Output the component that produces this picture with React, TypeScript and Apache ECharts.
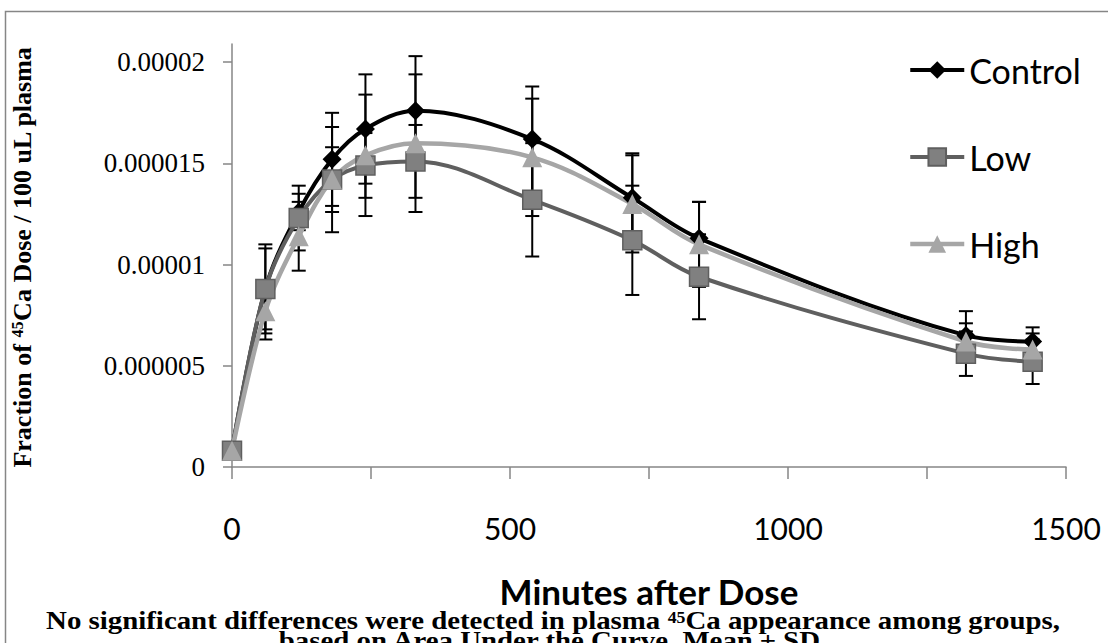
import React, { useEffect, useRef } from "react";
import * as echarts from "echarts";

// Sampling times (minutes after dose)
const minutes = [0, 60, 120, 180, 240, 330, 540, 720, 840, 1320, 1440];

// Fraction of 45Ca dose per 100 uL plasma, mean and SD per group
const controlMean = [0.0000008, 0.0000088, 0.0000126, 0.0000152, 0.0000167, 0.0000176, 0.0000162, 0.0000133, 0.0000113, 0.0000065, 0.0000062];
const controlSD = [0, 0.0000022, 0.0000009, 0.0000023, 0.0000027, 0.0000027, 0.0000026, 0.0000022, 0.0000018, 0.0000012, 0.0000007];
const lowMean = [0.0000008, 0.0000088, 0.0000123, 0.0000142, 0.0000149, 0.0000151, 0.0000132, 0.0000112, 0.0000094, 0.0000056, 0.0000052];
const lowSD = [0, 0.000002, 0.0000016, 0.0000016, 0.0000016, 0.0000018, 0.0000028, 0.0000027, 0.0000021, 0.0000011, 0.0000011];
const highMean = [0.0000008, 0.0000077, 0.0000114, 0.0000142, 0.0000154, 0.000016, 0.0000153, 0.000013, 0.000011, 0.0000062, 0.0000058];
const highSD = [0, 0.0000014, 0.0000017, 0.0000026, 0.000003, 0.0000034, 0.0000029, 0.0000024, 0.0000021, 0.0000009, 0.0000008];

// Axis ticks and labels
const yTicks = [0, 0.000005, 0.00001, 0.000015, 0.00002];
const xTicks = [0, 250, 500, 750, 1000, 1250, 1500];
const xLabels = [0, 500, 1000, 1500];

const AXIS_GRAY = "#868686";
const SERIF = "'Liberation Serif', 'Times New Roman', serif";
const SANS = "Lato, 'Open Sans', sans-serif";

function formatY(v: number): string {
  if (v === 0) return "0";
  return v.toFixed(6).replace(/0+$/, "");
}

function errorBars(name: string, mean: number[], sd: number[]) {
  const data = minutes
    .map((m, i) => [m, mean[i] - sd[i], mean[i] + sd[i], sd[i]])
    .filter((d) => d[3] > 0);
  return {
    type: "custom",
    name: name + " SD",
    z: 1,
    silent: true,
    data,
    encode: { x: 0, y: [1, 2] },
    renderItem: (_params: any, api: any) => {
      const x = api.value(0);
      const lo = api.coord([x, api.value(1)]);
      const hi = api.coord([x, api.value(2)]);
      const w = 7;
      const style = { stroke: "#000", lineWidth: 2 };
      return {
        type: "group",
        children: [
          { type: "line", shape: { x1: hi[0], y1: hi[1], x2: lo[0], y2: lo[1] }, style },
          { type: "line", shape: { x1: hi[0] - w, y1: hi[1], x2: hi[0] + w, y2: hi[1] }, style },
          { type: "line", shape: { x1: lo[0] - w, y1: lo[1], x2: lo[0] + w, y2: lo[1] }, style },
        ],
      };
    },
  };
}

function lineSeries(
  name: string,
  mean: number[],
  color: string,
  width: number,
  symbol: string,
  symbolSize: number,
  itemStyle: any
) {
  return {
    type: "line",
    name,
    z: 2,
    data: minutes.map((m, i) => [m, mean[i]]),
    smooth: 0.35,
    symbol,
    symbolSize,
    showAllSymbol: true,
    lineStyle: { color, width },
    itemStyle,
  };
}

export default function App() {
  const ref = useRef<HTMLDivElement>(null);

  useEffect(() => {
    if (!ref.current) return;
    const chart = echarts.init(ref.current, undefined, { renderer: "svg" });

    const supStyle = { fontFamily: SERIF, fontSize: 16, fontWeight: "bold", verticalAlign: "top", fill: "#000" };

    const option: any = {
      animation: false,
      backgroundColor: "#fff",
      grid: { left: 232, right: 42, top: 44, bottom: 176 },
      legend: {
        orient: "vertical",
        left: 908,
        top: 52,
        padding: 0,
        itemWidth: 54,
        itemHeight: 22,
        itemGap: 51,
        textStyle: { fontFamily: SANS, fontSize: 34, color: "#000", lineHeight: 36 },
        data: [
          { name: "Control", lineStyle: { width: 4 } },
          { name: "Low", lineStyle: { width: 4 } },
          { name: "High", lineStyle: { width: 4.5 } },
        ],
      },
      xAxis: {
        type: "value",
        min: 0,
        max: 1500,
        interval: 250,
        splitLine: { show: false },
        axisLine: { lineStyle: { color: AXIS_GRAY, width: 1.5 } },
        axisTick: { customValues: xTicks, length: 12, lineStyle: { color: AXIS_GRAY, width: 1.5 } },
        axisLabel: {
          customValues: xLabels,
          formatter: (v: number) => String(v),
          margin: 46,
          fontFamily: SANS,
          fontSize: 30,
          color: "#000",
        },
        name: "Minutes after Dose",
        nameLocation: "middle",
        nameGap: 109,
        nameTextStyle: { fontFamily: SANS, fontSize: 35, fontWeight: "bold", color: "#000", lineHeight: 30 },
      },
      yAxis: {
        type: "value",
        min: 0,
        max: 0.0000209,
        interval: 0.000005,
        splitLine: { show: false },
        axisLine: { show: true, lineStyle: { color: AXIS_GRAY, width: 1.5 } },
        axisTick: { show: true, customValues: yTicks, length: 9, lineStyle: { color: AXIS_GRAY, width: 1.5 } },
        axisLabel: {
          customValues: yTicks,
          formatter: (v: number) => formatY(v),
          margin: 27,
          fontFamily: SERIF,
          fontSize: 27,
          color: "#000",
        },
      },
      graphic: [
        {
          type: "rect",
          z: -10,
          silent: true,
          shape: { x: 5.5, y: 11.5, width: 1200, height: 700 },
          style: { fill: "none", stroke: AXIS_GRAY, lineWidth: 1.5 },
        },
        {
          type: "text",
          x: 22,
          y: 257,
          rotation: Math.PI / 2,
          silent: true,
          style: {
            text: "Fraction of {sup|45}Ca Dose / 100 uL plasma",
            align: "center",
            verticalAlign: "middle",
            fontFamily: SERIF,
            fontSize: 26,
            fontWeight: "bold",
            fill: "#000",
            rich: { sup: supStyle },
          },
        },
        {
          type: "text",
          x: 553,
          y: 620,
          scaleX: 1.11,
          silent: true,
          style: {
            text: "No significant differences were detected in plasma {sup|45}Ca appearance among groups,",
            align: "center",
            verticalAlign: "middle",
            fontFamily: SERIF,
            fontSize: 26,
            lineHeight: 21,
            fontWeight: "bold",
            fill: "#000",
            rich: { sup: { ...supStyle, fontSize: 16, lineHeight: 21 } },
          },
        },
        {
          type: "text",
          x: 553,
          y: 640,
          scaleX: 1.11,
          silent: true,
          style: {
            text: "based on Area Under the Curve. Mean \u00b1 SD.",
            align: "center",
            verticalAlign: "middle",
            fontFamily: SERIF,
            fontSize: 26,
            lineHeight: 20,
            fontWeight: "bold",
            fill: "#000",
          },
        },
      ],
      series: [
        errorBars("Control", controlMean, controlSD),
        errorBars("Low", lowMean, lowSD),
        errorBars("High", highMean, highSD),
        lineSeries("Control", controlMean, "#000000", 4, "diamond", 19, { color: "#000000" }),
        lineSeries("Low", lowMean, "#5f5f5f", 4, "rect", 19, {
          color: "#808080",
          borderColor: "#5f5f5f",
          borderWidth: 1.5,
        }),
        lineSeries("High", highMean, "#a6a6a6", 4.5, "triangle", 20, { color: "#a6a6a6" }),
      ],
    };

    chart.setOption(option);
    return () => chart.dispose();
  }, []);

  return (
    <div
      ref={ref}
      style={{ position: "absolute", left: 0, top: 0, width: 1108, height: 643, overflow: "hidden" }}
    />
  );
}
